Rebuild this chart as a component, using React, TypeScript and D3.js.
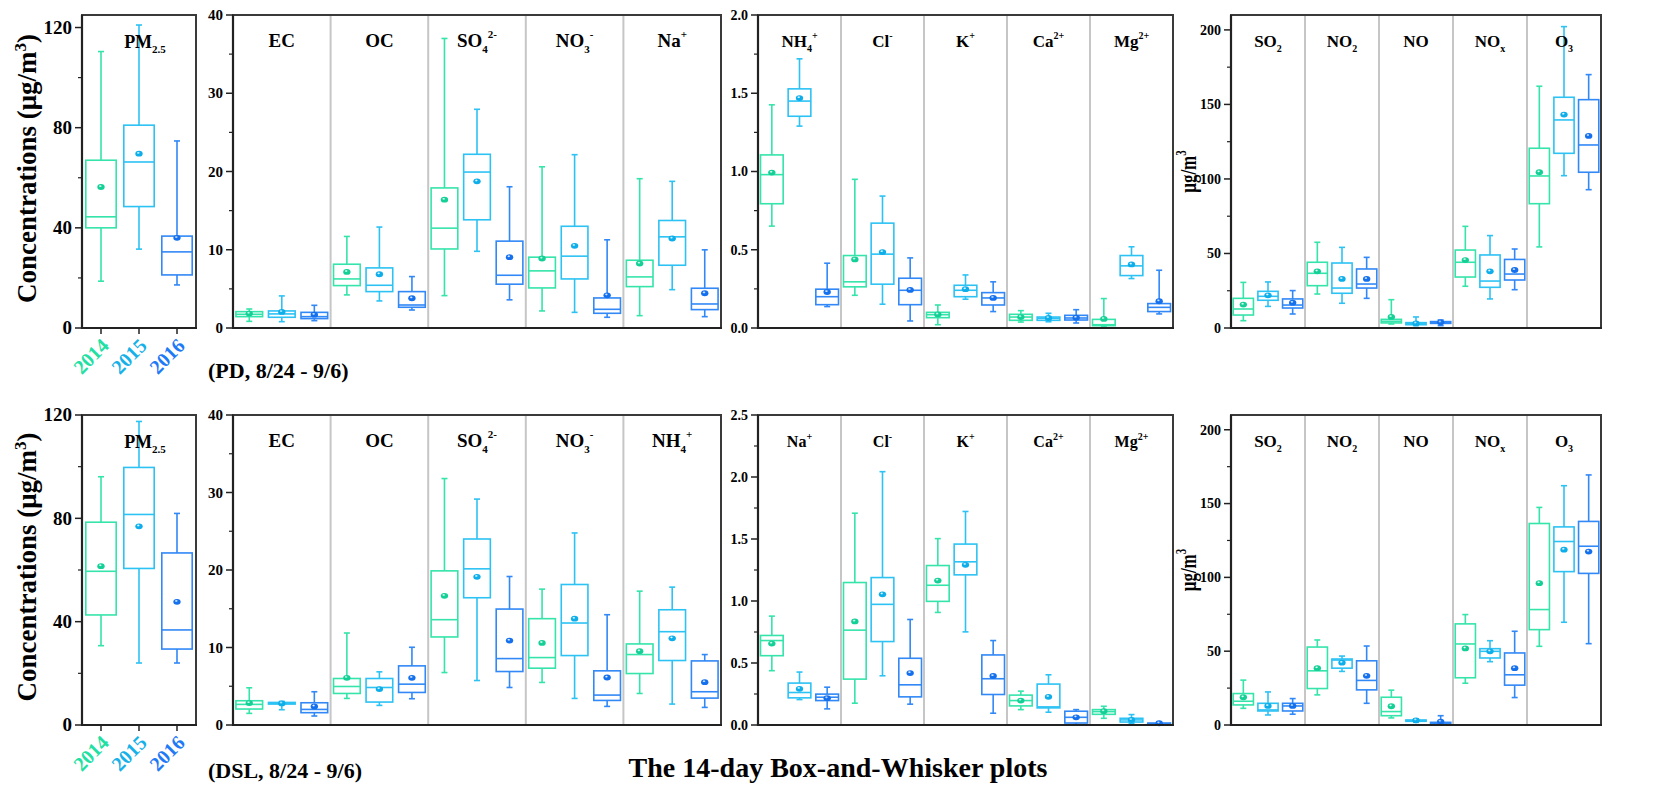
import * as d3 from "d3";

// box stats: [low whisker, q1, median, q3, high whisker, mean]
type Stat = number[];

const years = ["2014", "2015", "2016"];
const boxColors = ["#35e4aa", "#2cc2f4", "#3188f6"];
const dotColors = ["#14d096", "#0eaeea", "#1570ee"];
const yearColors = ["#22dfa2", "#16b1e8", "#1f7af6"];

// category labels: [main, subscript, superscript]
const pdMajorLabels = [["EC"], ["OC"], ["SO", "4", "2-"], ["NO", "3", "-"], ["Na", "", "+"]];
const pdMinorLabels = [["NH", "4", "+"], ["Cl", "", "-"], ["K", "", "+"], ["Ca", "", "2+"], ["Mg", "", "2+"]];
const dslMajorLabels = [["EC"], ["OC"], ["SO", "4", "2-"], ["NO", "3", "-"], ["NH", "4", "+"]];
const dslMinorLabels = [["Na", "", "+"], ["Cl", "", "-"], ["K", "", "+"], ["Ca", "", "2+"], ["Mg", "", "2+"]];
const gasLabels = [["SO", "2"], ["NO", "2"], ["NO"], ["NO", "x"], ["O", "3"]];
const pmLabel = ["PM", "2.5"];

// tick labels
const pmTicksPD = [0, 40, 80, 120];
const pmTicksDSL = [0, 40, 80, 120];
const majorTicks = [0, 10, 20, 30, 40];
const minorTicksPD = [0, 0.5, 1.0, 1.5, 2.0];
const minorTicksDSL = [0, 0.5, 1.0, 1.5, 2.0, 2.5];
const gasTicks = [0, 50, 100, 150, 200];

// PD, 8/24 - 9/6
const pdPm25: Stat[][] = [[
  [18.7, 40, 44.4, 67, 110.4, 56.3],
  [31.5, 48.5, 66.3, 81, 121, 69.6],
  [17.2, 21.2, 30.4, 36.7, 74.7, 36],
]];
const pdMajor: Stat[][] = [
  [[0.85, 1.45, 1.75, 2.09, 2.43, 1.84], [0.81, 1.37, 1.8, 2.18, 4.1, 2.05], [0.94, 1.2, 1.45, 2.0, 2.9, 1.7]],
  [[4.23, 5.42, 6.27, 8.15, 11.7, 7.17], [3.46, 4.65, 5.46, 7.68, 12.9, 6.87], [2.3, 2.65, 2.94, 4.65, 6.57, 3.8]],
  [[4.14, 10.1, 12.76, 17.9, 37.0, 16.4], [9.8, 13.83, 19.93, 22.2, 27.95, 18.74], [3.6, 5.6, 6.74, 11.1, 18.05, 9.05]],
  [[2.18, 5.12, 7.3, 9.05, 20.6, 8.88], [2.0, 6.27, 9.18, 13.0, 22.15, 10.5], [1.37, 1.88, 2.39, 3.84, 11.27, 4.18]],
  [[1.58, 5.29, 6.53, 8.66, 19.08, 8.24], [4.9, 8.02, 11.65, 13.74, 18.74, 11.44], [1.45, 2.35, 3.07, 5.08, 9.99, 4.44]],
];
const pdMinor: Stat[][] = [
  [[0.651, 0.794, 0.98, 1.106, 1.426, 0.993], [1.29, 1.353, 1.45, 1.528, 1.72, 1.469], [0.137, 0.149, 0.2, 0.248, 0.414, 0.23]],
  [[0.209, 0.263, 0.295, 0.463, 0.95, 0.438], [0.152, 0.28, 0.472, 0.67, 0.843, 0.485], [0.045, 0.149, 0.241, 0.318, 0.448, 0.243]],
  [[0.021, 0.066, 0.085, 0.1, 0.147, 0.087], [0.184, 0.2, 0.241, 0.273, 0.339, 0.248], [0.105, 0.147, 0.192, 0.226, 0.295, 0.192]],
  [[0.038, 0.049, 0.07, 0.0875, 0.111, 0.07], [0.04, 0.049, 0.062, 0.07, 0.094, 0.064], [0.032, 0.051, 0.064, 0.081, 0.117, 0.066]],
  [[0.01, 0.015, 0.021, 0.055, 0.188, 0.058], [0.316, 0.335, 0.397, 0.463, 0.519, 0.406], [0.09, 0.105, 0.132, 0.156, 0.369, 0.171]],
];
const pdGas: Stat[][] = [
  [[4.9, 8.7, 12.75, 19.9, 30.6, 15.7], [14.5, 18.6, 21.25, 24.6, 30.9, 21.9], [9.4, 13.4, 15.4, 19.5, 25.1, 17]],
  [[22.8, 28.4, 36.7, 44.1, 57.5, 38], [16.6, 23.3, 26.8, 43.6, 54.1, 32.9], [19.9, 26.8, 29.5, 39.6, 47.4, 32.9]],
  [[2.7, 3.4, 4.5, 5.8, 19, 7.4], [1.6, 2.2, 2.9, 3.6, 7.4, 3.1], [1.6, 3.1, 3.6, 4.3, 5.4, 3.8]],
  [[28, 34.2, 44.1, 52.3, 68.2, 45.6], [19.5, 27.3, 31.5, 49, 62, 38], [25.7, 32.2, 36.2, 46, 53, 38.9]],
  [[54.4, 83.4, 102, 120.6, 162.2, 104.5], [102.2, 117.2, 139.6, 154.8, 202.2, 143.2], [92.8, 104.5, 122.8, 153.2, 170, 128.9]],
];

// DSL, 8/24 - 9/6
const dslPm25: Stat[][] = [[
  [30.7, 42.6, 59.5, 78.5, 96.1, 61.5],
  [24, 60.6, 81.5, 99.7, 117.5, 76.9],
  [24, 29.4, 36.8, 66.6, 81.9, 47.7],
]];
const dslMajor: Stat[][] = [
  [[1.5, 2.06, 2.66, 3.13, 4.8, 2.83], [1.97, 2.7, 2.83, 2.91, 3.04, 2.79], [1.16, 1.59, 2.01, 2.87, 4.29, 2.4]],
  [[3.43, 4.07, 4.97, 6.0, 11.87, 6.09], [2.53, 2.96, 4.84, 6.0, 6.86, 4.63], [3.39, 4.2, 5.27, 7.63, 10.03, 6.09]],
  [[6.77, 11.36, 13.59, 19.89, 31.8, 16.67], [5.74, 16.42, 20.15, 24.0, 29.15, 19.12], [4.84, 6.9, 8.57, 14.96, 19.16, 10.89]],
  [[5.49, 7.33, 8.7, 13.72, 17.53, 10.59], [3.43, 8.96, 13.16, 18.13, 24.78, 13.72], [2.4, 3.17, 3.86, 6.99, 14.23, 6.13]],
  [[4.07, 6.64, 9.09, 10.46, 17.27, 9.52], [2.7, 8.32, 12.04, 14.87, 17.79, 11.19], [2.27, 3.47, 4.29, 8.27, 9.09, 5.53]],
];
const dslMinor: Stat[][] = [
  [[0.438, 0.559, 0.681, 0.722, 0.878, 0.657], [0.205, 0.219, 0.262, 0.338, 0.427, 0.292], [0.13, 0.197, 0.224, 0.249, 0.305, 0.216]],
  [[0.176, 0.37, 0.765, 1.149, 1.708, 0.835], [0.397, 0.673, 0.973, 1.189, 2.043, 1.054], [0.168, 0.227, 0.324, 0.538, 0.851, 0.419]],
  [[0.908, 0.997, 1.127, 1.286, 1.503, 1.165], [0.751, 1.211, 1.316, 1.459, 1.722, 1.292], [0.095, 0.246, 0.373, 0.565, 0.681, 0.395]],
  [[0.124, 0.154, 0.197, 0.241, 0.273, 0.197], [0.103, 0.138, 0.146, 0.33, 0.405, 0.227], [0.003, 0.016, 0.062, 0.111, 0.124, 0.062]],
  [[0.054, 0.086, 0.108, 0.124, 0.151, 0.111], [0.014, 0.024, 0.041, 0.054, 0.084, 0.041], [0.003, 0.006, 0.01, 0.016, 0.024, 0.014]],
];
const dslGas: Stat[][] = [
  [[11.3, 13.6, 16.1, 21.3, 30.4, 18.8], [6.8, 9.5, 10.2, 14.7, 22.4, 12.9], [7.3, 9.5, 12.9, 14.7, 17.9, 12.9]],
  [[20.4, 24.7, 36.7, 52.8, 57.6, 38.5], [36.3, 38.5, 44, 44.7, 46.7, 42.2], [14.7, 23.8, 30.2, 43.5, 53.5, 33.3]],
  [[4.8, 6.3, 9.1, 18.8, 23.6, 12.7], [1.8, 2.5, 2.9, 3.4, 4.1, 3.2], [0.2, 0.7, 1.1, 1.8, 6.3, 2.3]],
  [[28.3, 32, 54.9, 68.5, 74.8, 51.9], [42.9, 45.4, 49.9, 51.7, 57.1, 49.9], [18.6, 27, 34, 48.8, 63.5, 38.5]],
  [[53.3, 64.6, 78.2, 136.5, 147.4, 96.1], [69.6, 103.9, 124.3, 134.2, 162.1, 118.8], [55.1, 102.7, 121.1, 137.9, 169.4, 117.5]],
];

const FONT = "'Liberation Serif', 'Times New Roman', serif";

function Label({ parts, x, y, size }: { parts: string[]; x: number; y: number; size: number }) {
  const [main, sub, sup] = parts;
  const small = Math.round(size * 0.6);
  return (
    <text x={x} y={y} textAnchor="middle" fontFamily={FONT} fontWeight="bold" fontSize={size}>
      {main}
      {sub ? <tspan fontSize={small} dy={size * 0.3}>{sub}</tspan> : null}
      {sup ? <tspan fontSize={small} dy={sub ? -size * 0.78 : -size * 0.45}>{sup}</tspan> : null}
    </text>
  );
}

type PanelProps = {
  x0: number; x1: number; y0: number; y1: number;
  max: number; ticks: number[]; minorStep: number; fmt: string;
  tickFont: number; labels: string[][]; labelFont: number;
  data: Stat[][]; pm?: boolean;
};

function Panel({ x0, x1, y0, y1, max, ticks, minorStep, fmt, tickFont, labels, labelFont, data, pm }: PanelProps) {
  const y = d3.scaleLinear().domain([0, max]).range([y1, y0]);
  const xCat = d3.scaleBand<number>().domain(d3.range(data.length)).range([x0, x1]);
  const xYear = d3.scaleBand<string>().domain(years).range([0, xCat.bandwidth()])
    .paddingInner(pm ? 0.2 : 0.18).paddingOuter(pm ? 0.1 : 0.09);
  const minor = d3.range(0, max + 1e-9, minorStep).filter((v) => !ticks.some((t) => Math.abs(t - v) < 1e-9));
  const format = d3.format(fmt);
  const bw = xYear.bandwidth();
  const cap = 3;

  return (
    <g>
      {data.slice(1).map((_, i) => (
        <line key={`d${i}`} x1={xCat(i + 1)} x2={xCat(i + 1)} y1={y0} y2={y1} stroke="#c6c6c6" strokeWidth={2} />
      ))}
      {data.map((cat, ci) =>
        cat.map((s, yi) => {
          const cx = (xCat(ci) ?? 0) + (xYear(years[yi]) ?? 0) + bw / 2;
          const c = boxColors[yi];
          return (
            <g key={`${ci}-${yi}`} stroke={c} strokeWidth={1.6} fill="none">
              <line x1={cx} x2={cx} y1={y(s[0])} y2={y(s[1])} />
              <line x1={cx} x2={cx} y1={y(s[3])} y2={y(s[4])} />
              <line x1={cx - cap} x2={cx + cap} y1={y(s[0])} y2={y(s[0])} />
              <line x1={cx - cap} x2={cx + cap} y1={y(s[4])} y2={y(s[4])} />
              <rect x={cx - bw / 2} y={y(s[3])} width={bw} height={Math.max(0.5, y(s[1]) - y(s[3]))} />
              <line x1={cx - bw / 2} x2={cx + bw / 2} y1={y(s[2])} y2={y(s[2])} />
              <ellipse cx={cx} cy={y(s[5])} rx={3.7} ry={2.9} fill={`url(#dot${yi})`} stroke="none" />
            </g>
          );
        })
      )}
      {!pm && labels.map((parts, i) => (
        <Label key={`l${i}`} parts={parts} x={(xCat(i) ?? 0) + xCat.bandwidth() / 2} y={y0 + 32} size={labelFont} />
      ))}
      {pm && <Label parts={labels[0]} x={(x0 + x1) / 2 + 6} y={y0 + 33} size={labelFont} />}
      <rect x={x0} y={y0} width={x1 - x0} height={y1 - y0} fill="none" stroke="#3a3a3a" strokeWidth={2} />
      <line x1={x0} x2={x0} y1={y0} y2={y1 + 1} stroke="#222" strokeWidth={2.2} />
      <line x1={x0 - 1} x2={x1 + 1} y1={y1} y2={y1} stroke="#222" strokeWidth={2.2} />
      {ticks.map((t) => (
        <g key={`t${t}`}>
          <line x1={x0 - 7} x2={x0} y1={y(t)} y2={y(t)} stroke="#222" strokeWidth={1.5} />
          <text x={x0 - 10} y={y(t)} dy="0.34em" textAnchor="end" fontFamily={FONT} fontWeight="bold" fontSize={tickFont}>
            {format(t)}
          </text>
        </g>
      ))}
      {minor.map((t) => (
        <line key={`m${t}`} x1={x0 - 4} x2={x0} y1={y(t)} y2={y(t)} stroke="#222" strokeWidth={1.2} />
      ))}
      {pm && years.map((yr, yi) => {
        const cx = (xCat(0) ?? 0) + (xYear(yr) ?? 0) + bw / 2;
        return (
          <g key={yr}>
            <line x1={cx} x2={cx} y1={y1} y2={y1 + 6} stroke="#222" strokeWidth={1.5} />
            <text transform={`translate(${cx + 4},${y1 + 14}) rotate(-45)`} dy="0.35em" textAnchor="end"
              fontFamily={FONT} fontWeight="bold" fontSize={20} fill={yearColors[yi]}>
              {yr}
            </text>
          </g>
        );
      })}
    </g>
  );
}

function Row({ y0, y1, pm, major, minor, gas, majorLabels, minorLabels, pmMax, pmTicks, minorMax, minorTicks, fontMinor }: any) {
  const mid = (y0 + y1) / 2;
  return (
    <g>
      <text transform={`translate(36,${mid - 3}) rotate(-90)`} textAnchor="middle" fontFamily={FONT} fontWeight="bold" fontSize={27}>
        Concentrations (μg/m<tspan fontSize={17} dy={-10}>3</tspan><tspan dy={10}>)</tspan>
      </text>
      <Panel x0={82} x1={196} y0={y0} y1={y1} max={pmMax} ticks={pmTicks} minorStep={20} fmt="d"
        tickFont={19} labels={[pmLabel]} labelFont={18} data={pm} pm />
      <Panel x0={233} x1={721} y0={y0} y1={y1} max={40} ticks={majorTicks} minorStep={5} fmt="d"
        tickFont={15} labels={majorLabels} labelFont={19} data={major} />
      <Panel x0={758} x1={1173} y0={y0} y1={y1} max={minorMax} ticks={minorTicks} minorStep={0.25} fmt=".1f"
        tickFont={14} labels={minorLabels} labelFont={fontMinor} data={minor} />
      <Panel x0={1231} x1={1601} y0={y0} y1={y1} max={210} ticks={gasTicks} minorStep={25} fmt="d"
        tickFont={14} labels={gasLabels} labelFont={17} data={gas} />
      <text transform={`translate(1196,${mid}) scale(1.3,1) rotate(-90)`} textAnchor="middle" fontFamily={FONT} fontWeight="bold" fontSize={17}>
        μg/m<tspan fontSize={11} dy={-8}>3</tspan>
      </text>
    </g>
  );
}

export default function App() {
  return (
    <div style={{ position: "absolute", left: 0, top: 0 }}>
      <svg width={1657} height={795} style={{ display: "block", background: "#fff" }}>
        <defs>
          {dotColors.map((c, i) => (
            <radialGradient key={c} id={`dot${i}`} cx="40%" cy="35%" r="65%">
              <stop offset="0%" stopColor="#ffffff" stopOpacity={0.7} />
              <stop offset="35%" stopColor={c} />
              <stop offset="100%" stopColor={c} />
            </radialGradient>
          ))}
        </defs>
        <Row y0={15} y1={328} pm={pdPm25} major={pdMajor} minor={pdMinor} gas={pdGas}
          majorLabels={pdMajorLabels} minorLabels={pdMinorLabels} pmMax={125} pmTicks={pmTicksPD}
          minorMax={2} minorTicks={minorTicksPD} fontMinor={17} />
        <Row y0={415} y1={725} pm={dslPm25} major={dslMajor} minor={dslMinor} gas={dslGas}
          majorLabels={dslMajorLabels} minorLabels={dslMinorLabels} pmMax={120} pmTicks={pmTicksDSL}
          minorMax={2.5} minorTicks={minorTicksDSL} fontMinor={16} />
        <text x={208} y={378} fontFamily={FONT} fontWeight="bold" fontSize={22}>(PD, 8/24 - 9/6)</text>
        <text x={208} y={778} fontFamily={FONT} fontWeight="bold" fontSize={22}>(DSL, 8/24 - 9/6)</text>
        <text x={838} y={777} textAnchor="middle" fontFamily={FONT} fontWeight="bold" fontSize={28}>
          The 14-day Box-and-Whisker plots
        </text>
      </svg>
    </div>
  );
}
